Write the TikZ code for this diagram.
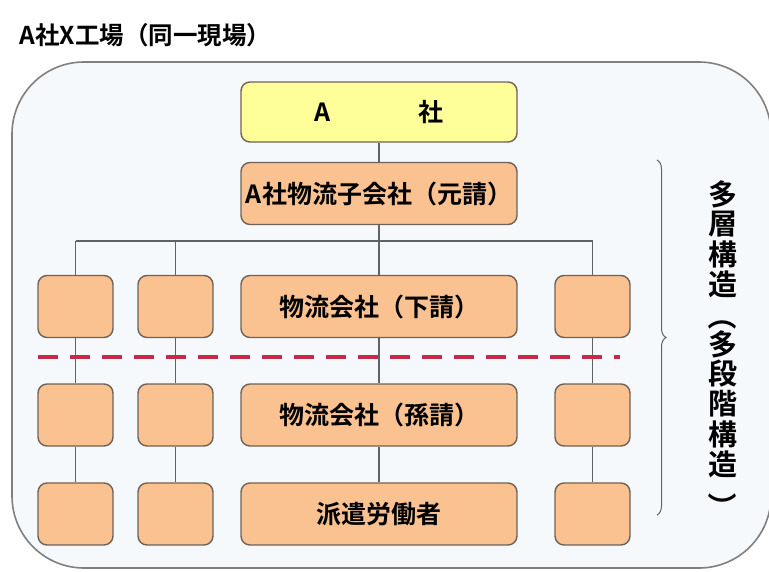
\documentclass[tikz,border=0pt]{standalone}
\usepackage{fontspec}
\setmainfont{Noto Sans CJK JP}[BoldFont=* Bold]
\usetikzlibrary{decorations.pathreplacing}
\definecolor{peach}{HTML}{FAC291}
\definecolor{lemon}{HTML}{FFFF99}
\definecolor{boxline}{HTML}{6E6259}
\definecolor{wire}{HTML}{5F6366}
\definecolor{cutred}{HTML}{C8294A}
\definecolor{site}{HTML}{F6F9FB}
\tikzset{
  box/.style={draw=boxline,fill=peach,rounded corners=9pt,line width=1.4pt,
    minimum height=62pt,inner sep=0pt,font=\bfseries\fontsize{25}{25}\selectfont},
  unit/.style={box,minimum width=75pt},
  wide/.style={box,minimum width=276pt},
  wire/.style={draw=wire,line width=1.2pt},
  cut/.style={draw=cutred,line width=3.5pt,dash pattern=on 20pt off 12pt},
  tierchar/.style={inner sep=0pt,font=\bfseries\fontsize{29}{29}\selectfont}
}
\begin{document}
\begin{tikzpicture}[x=1pt,y=-1pt]
      \useasboundingbox (0,0) rectangle (769,571);
      % site frame
      \draw[fill=site,draw=gray,line width=1.6pt,rounded corners=72pt] (12,62) rectangle (771,568);
      \node[anchor=west,font=\bfseries\fontsize{24.5}{25}\selectfont] (title) at (16,35) {A社X工場（同一現場）};

      \node[wide,fill=lemon,minimum height=60pt] (A) at (379,112) {A\hspace{88pt}社};
      \node[wide] (gen) at (379,193.5) {A社物流子会社（元請）};

      \coordinate (bus) at (379,241);
      \foreach \c/\x in {a/75.5,b/175.5,d/592.5}{
        \node[unit] (\c1) at (\x,306.5) {};
        \node[unit] (\c2) at (\x,415) {};
        \node[unit] (\c3) at (\x,514) {};
      }
      \node[wide] (c1) at (379,306.5) {物流会社（下請）};
      \node[wide] (c2) at (379,415) {物流会社（孫請）};
      \node[wide] (c3) at (379,514) {派遣労働者};

      \draw[wire] (A) -- (gen);
      \draw[wire] (gen) -- (bus);
      \draw[wire] (a1.north |- bus) -- (d1.north |- bus);
      \foreach \c in {a,b,c,d}{
        \draw[wire] (\c1.north |- bus) -- (\c1);
        \draw[wire] (\c1) -- (\c2);
        \draw[wire] (\c2) -- (\c3);
      }

      \coordinate (cutL) at (38,357);
      \coordinate (cutR) at (620,357);
      \draw[cut] (cutL) -- (cutR);

      \draw[wire,line width=1pt,decorate,decoration={brace,amplitude=9pt}] (657,160) -- (657,515);
      % vertical label, one character per node
      \foreach \ch/\r/\dy [count=\i] in {多/0/0,層/0/0,構/0/0,造/0/0,（/-90/2,多/0/0,段/0/0,階/0/0,構/0/0,造/0/0,）/-90/13}
        \node[tierchar,rotate=\r] (tier\i) at (723,164+30*\i+\dy) {\ch};
    \end{tikzpicture}
\end{document}
